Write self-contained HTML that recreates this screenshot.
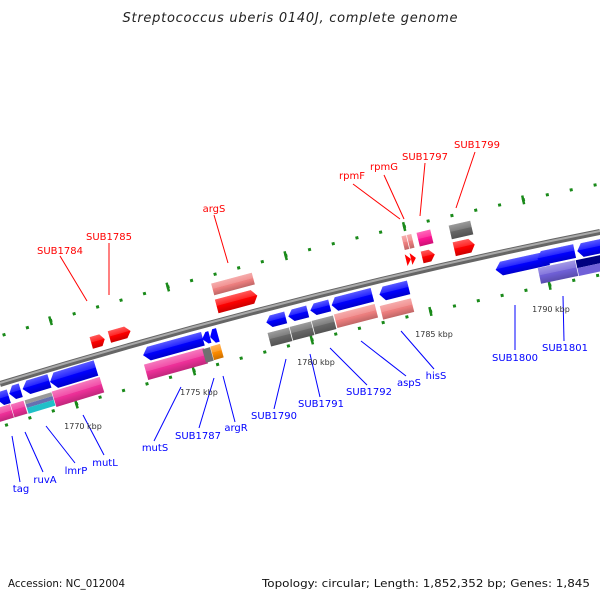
<!DOCTYPE html>
<html><head><meta charset="utf-8"><style>
html,body{margin:0;padding:0;background:#fff;}
svg{display:block;}
text{font-family:"DejaVu Sans","Liberation Sans",sans-serif;}
</style></head><body>
<svg width="600" height="600" viewBox="0 0 600 600" xmlns="http://www.w3.org/2000/svg">
<defs>
<linearGradient id="hl" x1="0" y1="0" x2="0" y2="1">
<stop offset="0" stop-color="#fff" stop-opacity="0.35"/>
<stop offset="0.45" stop-color="#fff" stop-opacity="0.15"/>
<stop offset="0.5" stop-color="#000" stop-opacity="0"/>
<stop offset="1" stop-color="#000" stop-opacity="0.2"/>
</linearGradient>
</defs>
<text x="290" y="22" font-size="13" font-style="italic" text-anchor="middle" textLength="335" fill="#222">Streptococcus uberis 0140J, complete genome</text>

<path d="M0,336 Q300,244 600,184" fill="none" stroke="#1a8a1a" stroke-width="3" stroke-dasharray="3 21.4" stroke-dashoffset="-2.7"/>
<path d="M0,336 Q300,244 600,184" fill="none" stroke="#1a8a1a" stroke-width="9" stroke-dasharray="2.5 119.5" stroke-dashoffset="-51.5"/>
<path d="M0,427 Q300,335 600,275" fill="none" stroke="#1a8a1a" stroke-width="3" stroke-dasharray="3 21.4" stroke-dashoffset="-5.3"/>
<path d="M0,427 Q300,335 600,275" fill="none" stroke="#1a8a1a" stroke-width="9" stroke-dasharray="2.5 119.5" stroke-dashoffset="-78.5"/>

<path d="M0,384 Q300,292 600,232" fill="none" stroke="#666" stroke-width="6"/>
<path d="M0,383 Q300,291 600,231" fill="none" stroke="#aaa" stroke-width="2"/>

<g transform="translate(98,341) rotate(-16)"><polygon points="-7,-6 3,-6 7,0 3,6 -7,6" fill="#f00"/><polygon points="-7,-6 3,-6 7,0 3,6 -7,6" fill="url(#hl)"/></g>
<g transform="translate(120,334) rotate(-16)"><polygon points="-11,-6 6,-6 11,0 6,6 -11,6" fill="#f00"/><polygon points="-11,-6 6,-6 11,0 6,6 -11,6" fill="url(#hl)"/></g>
<g transform="translate(233,284) rotate(-15)"><rect x="-21" y="-6" width="42" height="12" fill="#f08080"/><rect x="-21" y="-6" width="42" height="12" fill="url(#hl)"/></g>
<g transform="translate(237,301) rotate(-15)"><polygon points="-21,-7 16,-7 21,0 16,7 -21,7" fill="#f00"/><polygon points="-21,-7 16,-7 21,0 16,7 -21,7" fill="url(#hl)"/></g>
<g transform="translate(408,242) rotate(-13.5)"><rect x="-5" y="-7" width="10" height="14" fill="#f08080"/><rect x="-5" y="-7" width="10" height="14" fill="url(#hl)"/><line x1="0" y1="-7" x2="0" y2="7" stroke="#fff" stroke-width="0.8"/></g>
<g transform="translate(411,259) rotate(-13.5)"><polygon points="-5,-6 0,0 -5,6" fill="#f00"/><polygon points="0,-6 5,0 0,6" fill="#f00"/></g>
<g transform="translate(425,238) rotate(-13.5)"><rect x="-7" y="-7" width="14" height="14" fill="#ff1493"/><rect x="-7" y="-7" width="14" height="14" fill="url(#hl)"/></g>
<g transform="translate(428,256) rotate(-13.5)"><polygon points="-6,-6 2,-6 7,0 2,6 -6,6" fill="#f00"/><polygon points="-6,-6 2,-6 7,0 2,6 -6,6" fill="url(#hl)"/></g>
<g transform="translate(461,230) rotate(-13)"><rect x="-11" y="-7" width="22" height="14" fill="#666"/><rect x="-11" y="-7" width="22" height="14" fill="url(#hl)"/></g>
<g transform="translate(464,247) rotate(-13)"><polygon points="-10,-7 6,-7 11,0 6,7 -10,7" fill="#f00"/><polygon points="-10,-7 6,-7 11,0 6,7 -10,7" fill="url(#hl)"/></g>

<g transform="translate(3,398) rotate(-17)"><polygon points="-6,0 -1,-7 6,-7 6,7 -1,7" fill="#00f"/><polygon points="-6,0 -1,-7 6,-7 6,7 -1,7" fill="url(#hl)"/></g>
<g transform="translate(15,392) rotate(-17)"><polygon points="-6,0 -1,-7 6,-7 6,7 -1,7" fill="#00f"/><polygon points="-6,0 -1,-7 6,-7 6,7 -1,7" fill="url(#hl)"/></g>
<g transform="translate(36,385) rotate(-17)"><polygon points="-14,0 -8,-7 14,-7 14,7 -8,7" fill="#00f"/><polygon points="-14,0 -8,-7 14,-7 14,7 -8,7" fill="url(#hl)"/></g>
<g transform="translate(73,375) rotate(-17)"><polygon points="-24,0 -18,-8 24,-8 24,8 -18,8" fill="#00f"/><polygon points="-24,0 -18,-8 24,-8 24,8 -18,8" fill="url(#hl)"/></g>
<g transform="translate(5,413) rotate(-17)"><rect x="-10" y="-7" width="20" height="14" fill="#f0309a"/><rect x="-10" y="-7" width="20" height="14" fill="url(#hl)"/></g>
<g transform="translate(19,409) rotate(-17)"><rect x="-7" y="-7" width="14" height="14" fill="#f0309a" stroke="#fff" stroke-width="0.6"/><rect x="-7" y="-7" width="14" height="14" fill="url(#hl)"/></g>
<g transform="translate(40,403) rotate(-17)"><rect x="-14" y="-7" width="28" height="4" fill="#999"/><rect x="-14" y="-3" width="28" height="4" fill="#6670b0"/><rect x="-14" y="1" width="28" height="6" fill="#20c0c8"/></g>
<g transform="translate(78,392) rotate(-17)"><rect x="-25" y="-8" width="50" height="16" fill="#f0309a"/><rect x="-25" y="-8" width="50" height="16" fill="url(#hl)"/></g>

<g transform="translate(173,347) rotate(-15.5)"><polygon points="-31,0 -25,-7 31,-7 31,7 -25,7" fill="#00f"/><polygon points="-31,0 -25,-7 31,-7 31,7 -25,7" fill="url(#hl)"/></g>
<g transform="translate(206,338) rotate(-15.5)"><polygon points="-4,0 1,-6 4,-6 4,6 1,6" fill="#00f"/></g>
<g transform="translate(214,336) rotate(-15.5)"><polygon points="-4,0 0,-7 4,-7 4,7 0,7" fill="#00f"/></g>
<g transform="translate(176,364) rotate(-15.5)"><rect x="-31" y="-8" width="62" height="16" fill="#f0309a"/><rect x="-31" y="-8" width="62" height="16" fill="url(#hl)"/></g>
<g transform="translate(208,355) rotate(-15.5)"><rect x="-4" y="-7" width="8" height="14" fill="#707070"/></g>
<g transform="translate(217,352) rotate(-15.5)"><rect x="-5" y="-7" width="10" height="14" fill="#ff8c00"/><rect x="-5" y="-7" width="10" height="14" fill="url(#hl)"/></g>

<g transform="translate(276,320) rotate(-14.5)"><polygon points="-10,0 -5,-6 10,-6 10,6 -5,6" fill="#00f"/><polygon points="-10,0 -5,-6 10,-6 10,6 -5,6" fill="url(#hl)"/></g>
<g transform="translate(298,314) rotate(-14.5)"><polygon points="-10,0 -5,-6 10,-6 10,6 -5,6" fill="#00f"/><polygon points="-10,0 -5,-6 10,-6 10,6 -5,6" fill="url(#hl)"/></g>
<g transform="translate(320,308) rotate(-14.5)"><polygon points="-10,0 -5,-6 10,-6 10,6 -5,6" fill="#00f"/><polygon points="-10,0 -5,-6 10,-6 10,6 -5,6" fill="url(#hl)"/></g>
<g transform="translate(352,300) rotate(-14.5)"><polygon points="-21,0 -16,-7 21,-7 21,7 -16,7" fill="#00f"/><polygon points="-21,0 -16,-7 21,-7 21,7 -16,7" fill="url(#hl)"/></g>
<g transform="translate(394,291) rotate(-14)"><polygon points="-15,0 -10,-7 15,-7 15,7 -10,7" fill="#00f"/><polygon points="-15,0 -10,-7 15,-7 15,7 -10,7" fill="url(#hl)"/></g>
<g transform="translate(280,337) rotate(-14.5)"><rect x="-11" y="-7" width="22" height="14" fill="#686868"/><rect x="-11" y="-7" width="22" height="14" fill="url(#hl)"/></g>
<g transform="translate(302,331) rotate(-14.5)"><rect x="-11" y="-7" width="22" height="14" fill="#686868"/><rect x="-11" y="-7" width="22" height="14" fill="url(#hl)"/></g>
<g transform="translate(324,325) rotate(-14.5)"><rect x="-11" y="-7" width="22" height="14" fill="#686868"/><rect x="-11" y="-7" width="22" height="14" fill="url(#hl)"/></g>
<g transform="translate(356,316) rotate(-14.5)"><rect x="-21" y="-7" width="42" height="14" fill="#f08080"/><rect x="-21" y="-7" width="42" height="14" fill="url(#hl)"/></g>
<g transform="translate(397,309) rotate(-14)"><rect x="-16" y="-7" width="32" height="14" fill="#f08080"/><rect x="-16" y="-7" width="32" height="14" fill="url(#hl)"/></g>

<g transform="translate(522,264) rotate(-12.5)"><polygon points="-27,0 -21,-7 27,-7 27,7 -21,7" fill="#00f"/><polygon points="-27,0 -21,-7 27,-7 27,7 -21,7" fill="url(#hl)"/></g>
<g transform="translate(556,255) rotate(-12)"><polygon points="-19,0 -14,-7 19,-7 19,7 -14,7" fill="#00f"/><polygon points="-19,0 -14,-7 19,-7 19,7 -14,7" fill="url(#hl)"/></g>
<g transform="translate(592,248) rotate(-12)"><polygon points="-15,0 -10,-7 15,-7 15,7 -10,7" fill="#00f"/><polygon points="-15,0 -10,-7 15,-7 15,7 -10,7" fill="url(#hl)"/></g>
<g transform="translate(558,272) rotate(-12)"><rect x="-19" y="-8" width="38" height="16" fill="#7060d8"/><rect x="-19" y="-8" width="38" height="16" fill="url(#hl)"/></g>
<g transform="translate(592,265) rotate(-12)"><rect x="-15" y="-8" width="30" height="8" fill="#000080"/><rect x="-15" y="0" width="30" height="8" fill="#7060d8"/></g>

<g stroke="#f00" stroke-width="1">
<line x1="60" y1="256" x2="87" y2="301"/>
<line x1="109" y1="243" x2="109" y2="295"/>
<line x1="214" y1="215" x2="228" y2="263"/>
<line x1="353" y1="184" x2="400" y2="219"/>
<line x1="384" y1="175" x2="404" y2="219"/>
<line x1="425" y1="163" x2="420" y2="216"/>
<line x1="475" y1="152" x2="456" y2="208"/>
</g>
<g fill="#f00" font-size="10" text-anchor="middle">
<text x="60" y="254">SUB1784</text>
<text x="109" y="240">SUB1785</text>
<text x="214" y="212">argS</text>
<text x="352" y="179">rpmF</text>
<text x="384" y="170">rpmG</text>
<text x="425" y="160">SUB1797</text>
<text x="477" y="148">SUB1799</text>
</g>

<g stroke="#00f" stroke-width="1">
<line x1="12" y1="436" x2="20" y2="482"/>
<line x1="25" y1="432" x2="43" y2="472"/>
<line x1="46" y1="426" x2="75" y2="463"/>
<line x1="83" y1="415" x2="104" y2="455"/>
<line x1="181" y1="387" x2="154" y2="441"/>
<line x1="214" y1="378" x2="199" y2="428"/>
<line x1="223" y1="376" x2="235" y2="422"/>
<line x1="286" y1="359" x2="274" y2="409"/>
<line x1="310" y1="354" x2="320" y2="397"/>
<line x1="330" y1="348" x2="367" y2="385"/>
<line x1="361" y1="341" x2="406" y2="376"/>
<line x1="401" y1="331" x2="434" y2="369"/>
<line x1="515" y1="305" x2="515" y2="350"/>
<line x1="563" y1="296" x2="564" y2="341"/>
</g>
<g fill="#00f" font-size="10" text-anchor="middle">
<text x="21" y="492">tag</text>
<text x="45" y="483">ruvA</text>
<text x="76" y="474">lmrP</text>
<text x="105" y="466">mutL</text>
<text x="155" y="451">mutS</text>
<text x="198" y="439">SUB1787</text>
<text x="236" y="431">argR</text>
<text x="274" y="419">SUB1790</text>
<text x="321" y="407">SUB1791</text>
<text x="369" y="395">SUB1792</text>
<text x="409" y="386">aspS</text>
<text x="436" y="379">hisS</text>
<text x="515" y="361">SUB1800</text>
<text x="565" y="351">SUB1801</text>
</g>

<g fill="#333" font-size="8" text-anchor="middle">
<text x="83" y="429">1770 kbp</text>
<text x="199" y="395">1775 kbp</text>
<text x="316" y="365">1780 kbp</text>
<text x="434" y="337">1785 kbp</text>
<text x="551" y="312">1790 kbp</text>
</g>

<text x="8" y="587" font-size="11" fill="#111" textLength="117" lengthAdjust="spacingAndGlyphs">Accession: NC_012004</text>
<text x="262" y="587" font-size="11" fill="#111" textLength="328" lengthAdjust="spacingAndGlyphs">Topology: circular; Length: 1,852,352 bp; Genes: 1,845</text>
</svg>
</body></html>
